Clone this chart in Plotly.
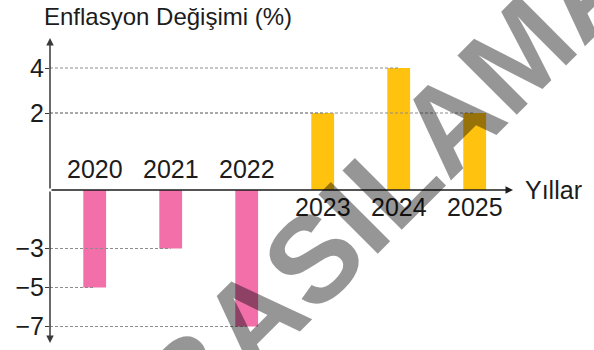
import plotly.graph_objects as go

# ---- data ----
years = ["2020", "2021", "2022", "2023", "2024", "2025"]
changes = [-5, -3, -7, 2, 4, 2]
neg_ticks = [-3, -5, -7]
pos_ticks = [2, 4]

title_text = "Enflasyon Değişimi (%)"
x_title = "Yıllar"
watermark = "BASILAMAZ"

# ---- style ----
PINK = "#F26FAA"
GOLD = "#FFC20E"
INK = "#1c1c1c"
GUIDE = "#8c8c8c"
SANS = "Liberation Sans, Arial, sans-serif"
LABEL_SIZE = 25

W, H = 594, 350
M = dict(l=50, r=79, t=38, b=5)
plot_w = W - M["l"] - M["r"]
plot_h = H - M["t"] - M["b"]
top_px, bot_px = M["t"], H - M["b"]

# horizontal scale: category slot width and centre of the first slot (px)
slot_px = 76.0
first_px = 94.7
x_lo = (M["l"] - first_px) / slot_px
x_hi = (W - M["r"] - first_px) / slot_px
x_tip = (513 - first_px) / slot_px

# vertical scales: a plain negative half and a broken positive half
zero_px = 190      # row of the horizontal axis
neg_unit = 19.5    # px per percentage point below the axis
pos_unit = 22.5    # px per percentage point above the axis
pos_gap = 32       # px skipped where the positive scale is broken
y_range = [-(bot_px - zero_px) / neg_unit, (zero_px - top_px) / neg_unit]
pos_zero_px = zero_px - pos_gap
y2_range = [-(bot_px - pos_zero_px) / pos_unit, (pos_zero_px - top_px) / pos_unit]
pos_base = -pos_gap / pos_unit   # axis row expressed on the positive scale


def paper_x(px):
    return (px - M["l"]) / plot_w


def paper_y(py):
    return (bot_px - py) / plot_h


fig = go.Figure()

# dotted guides from the vertical axis to the end of each bar
for i, v in enumerate(changes):
    fig.add_trace(go.Scatter(
        x=[x_lo, i], y=[v, v], mode="lines",
        line=dict(color=GUIDE, width=1, dash="3px,2px"),
        yaxis="y" if v < 0 else "y2", hoverinfo="skip",
    ))

neg_idx = [i for i, v in enumerate(changes) if v < 0]
pos_idx = [i for i, v in enumerate(changes) if v >= 0]

fig.add_trace(go.Bar(
    x=neg_idx, y=[changes[i] for i in neg_idx],
    width=0.3, marker=dict(color=PINK, line=dict(width=0)),
    yaxis="y", hovertext=[years[i] for i in neg_idx],
))
fig.add_trace(go.Bar(
    x=pos_idx, y=[changes[i] - pos_base for i in pos_idx], base=pos_base,
    width=0.3, marker=dict(color=GOLD, line=dict(width=0)),
    yaxis="y2", hovertext=[years[i] for i in pos_idx],
))

annotations = []

# year labels on the opposite side of each bar
for i, (yr, v) in enumerate(zip(years, changes)):
    annotations.append(dict(
        x=i, y=0, xref="x", yref="y", text=yr, showarrow=False,
        yanchor="bottom" if v < 0 else "top",
        yshift=5 if v < 0 else -1,
        font=dict(family=SANS, size=LABEL_SIZE, color=INK),
    ))

# axes drawn as arrows
arrow = dict(text="", showarrow=True, arrowhead=2, arrowsize=1, arrowwidth=1.5,
             arrowcolor=INK, xref="x", yref="y", axref="x", ayref="y",
             standoff=0, startstandoff=0)
annotations.append(dict(arrow, x=x_tip, y=0, ax=x_lo, ay=0))
annotations.append(dict(arrow, x=x_lo, y=y_range[1], ax=x_lo, ay=0, arrowcolor="#3a3a3a"))
annotations.append(dict(arrow, x=x_lo, y=y_range[0] + 2 / neg_unit, ax=x_lo, ay=0,
                        arrowcolor="#3a3a3a"))

annotations.append(dict(
    x=paper_x(523), y=0, xref="paper", yref="y", text=x_title, showarrow=False,
    xanchor="left", yanchor="middle",
    font=dict(family=SANS, size=LABEL_SIZE, color=INK),
))
annotations.append(dict(
    x=paper_x(42), y=paper_y(1), xref="paper", yref="paper", text=title_text,
    showarrow=False, xanchor="left", yanchor="top",
    font=dict(family=SANS, size=24, color=INK),
))
# diagonal translucent stamp across the chart
annotations.append(dict(
    x=paper_x(414), y=paper_y(158), xref="paper", yref="paper", text=watermark,
    showarrow=False, xanchor="center", yanchor="middle", textangle=-45,
    font=dict(family=SANS, size=122, color="rgba(0,0,0,0.41)", weight="bold"),
))

tick_style = dict(
    ticks="outside", ticklen=4, tickwidth=1, tickcolor="#3a3a3a",
    ticklabelstandoff=-4,
    showgrid=False, zeroline=False, showline=False,
    tickfont=dict(family=SANS, size=LABEL_SIZE, color=INK),
)

fig.update_layout(
    width=W, height=H, margin=M,
    paper_bgcolor="white", plot_bgcolor="white",
    showlegend=False, barmode="overlay",
    xaxis=dict(range=[x_lo, x_hi], visible=False),
    yaxis=dict(range=y_range, tickvals=neg_ticks, **tick_style),
    yaxis2=dict(range=y2_range, tickvals=pos_ticks, overlaying="y", side="left",
                **tick_style),
    annotations=annotations,
)

fig.write_html("out.html")
